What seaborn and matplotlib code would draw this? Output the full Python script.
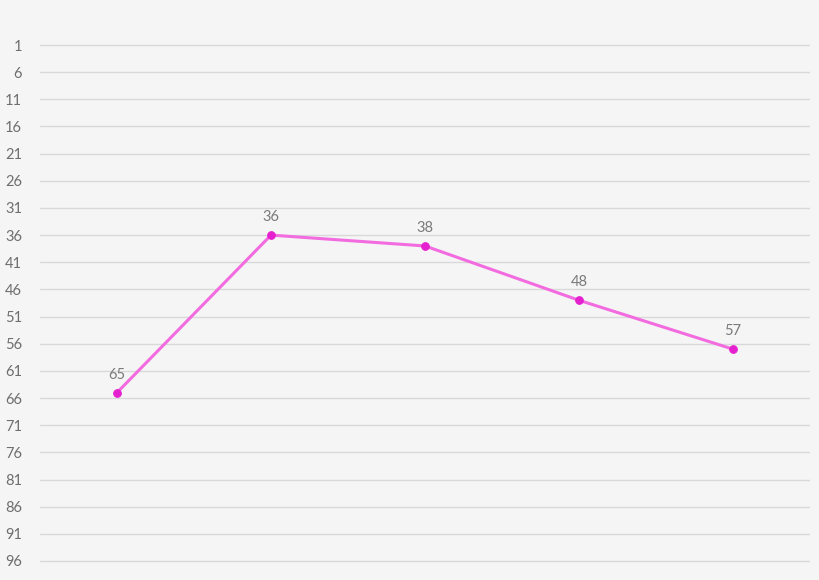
import matplotlib
matplotlib.use("Agg")
import matplotlib.pyplot as plt
import seaborn as sns
import pandas as pd

categories = ["1", "2", "3", "4", "5"]
values = [65, 36, 38, 48, 57]
y_ticks = list(range(1, 97, 5))

sns.set_theme(style="white")
plt.rcParams['font.family'] = ['Lato', 'DejaVu Sans']

BG = "#f5f5f5"
ppu = 516 / 95
fig = plt.figure(figsize=(8.2, 5.8), dpi=100, facecolor=BG)
ax = fig.add_axes([40/820, (580 - 561 - 0.5*ppu)/580, 770/820, (516 + ppu)/580])
ax.set_facecolor(BG)

df = pd.DataFrame({"cat": categories, "val": values})
df["x"] = range(len(df))
sns.lineplot(data=df, x="x", y="val", ax=ax, color="#f26ce0", linewidth=2.2,
             marker="o", markersize=5.5, markerfacecolor="#e520cf",
             markeredgecolor="#e520cf", zorder=3)

for xi, v in zip(df["x"], df["val"]):
    ax.annotate(str(v), (xi, v), xytext=(0, 8), textcoords="offset points",
                ha="center", va="bottom", fontsize=10.5, color="#7a7a7a")

ax.set_xlim(-0.5, len(categories) - 0.5)
ax.set_ylim(96.5, 0.5)
ax.set_yticks(y_ticks)
ax.set_yticklabels([str(t) for t in y_ticks])
ax.set_xticks([])
ax.yaxis.grid(True, color="#d9d9d9", linewidth=1)
ax.set_axisbelow(True)
ax.tick_params(axis="y", length=0, labelsize=10.5, labelcolor="#6e6e6e", pad=13)
for s in ax.spines.values():
    s.set_visible(False)
ax.set_xlabel("")
ax.set_ylabel("")
ax.legend_ = None

fig.savefig("out.png", dpi=100, facecolor=BG)
